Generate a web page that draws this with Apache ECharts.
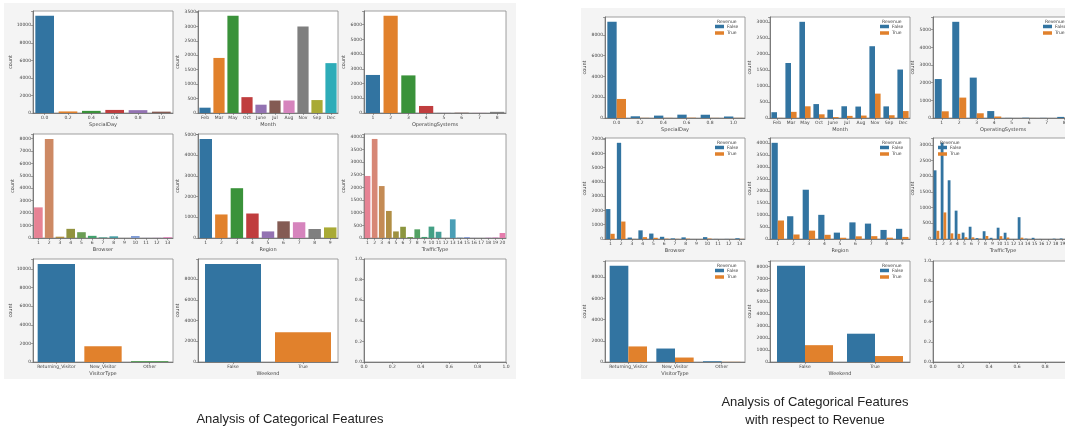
<!DOCTYPE html>
<html><head><meta charset="utf-8">
<script src="https://cdn.jsdelivr.net/npm/echarts@6/dist/echarts.min.js"></script>
<style>html,body{margin:0;padding:0;background:#fff}#c{width:1065px;height:428px}</style>
</head><body><div id="c"></div>
<script>
// ---------- DATA ----------
const specialDayCats = ['0.0','0.2','0.4','0.6','0.8','1.0'];
const specialDayCounts = [11079,178,243,351,325,154];
const specialDayFalse = [9248,164,230,322,314,144];
const specialDayTrue = [1831,14,13,29,11,10];

const monthCats = ['Feb','Mar','May','Oct','June','Jul','Aug','Nov','Sep','Dec'];
const monthCounts = [184,1907,3364,549,288,432,433,2998,448,1727];
const monthFalse = [181,1715,2999,434,259,366,357,2238,362,1511];
const monthTrue = [3,192,365,115,29,66,76,760,86,216];

const osCats = ['1','2','3','4','5','6','7','8'];
const osCounts = [2585,6601,2555,478,6,19,7,79];
const osFalse = [2206,5446,2287,393,5,17,6,62];
const osTrue = [379,1155,268,85,1,2,1,17];

const browserCats = ['1','2','3','4','5','6','7','8','9','10','11','12','13'];
const browserCounts = [2462,7961,105,736,467,174,49,135,1,163,6,10,61];
const browserFalse = [2097,6738,100,606,381,154,43,114,1,131,5,7,53];
const browserTrue = [365,1223,5,130,86,20,6,21,0,32,1,3,8];

const regionCats = ['1','2','3','4','5','6','7','8','9'];
const regionCounts = [4780,1136,2403,1182,318,805,761,434,511];
const regionFalse = [4009,948,2054,1007,266,693,642,378,425];
const regionTrue = [771,188,349,175,52,112,119,56,86];

const trafficCats = ['1','2','3','4','5','6','7','8','9','10','11','12','13','14','15','16','17','18','19','20'];
const trafficCounts = [2451,3913,2052,1069,260,444,40,343,42,450,247,1,738,13,38,3,1,10,17,198];
const trafficFalse = [2189,3066,1872,904,204,391,28,248,38,360,200,1,695,11,38,2,1,10,16,175];
const trafficTrue = [262,847,180,165,56,53,12,95,4,90,47,0,43,2,0,1,0,0,1,23];

const visitorCats = ['Returning_Visitor','New_Visitor','Other'];
const visitorCounts = [10551,1694,85];
const visitorFalse = [9081,1272,69];
const visitorTrue = [1470,422,16];

const weekendCats = ['False','True'];
const weekendCounts = [9462,2868];
const weekendFalse = [8053,2369];
const weekendTrue = [1409,499];

// ---------- COLOURS ----------
function hex2rgb(h){return [parseInt(h.substr(1,2),16),parseInt(h.substr(3,2),16),parseInt(h.substr(5,2),16)];}
function rgb2hex(c){return '#'+c.map(v=>Math.max(0,Math.min(255,Math.round(v))).toString(16).padStart(2,'0')).join('');}
function desat(hex,f){
  let [r,g,b]=hex2rgb(hex).map(v=>v/255);
  const mx=Math.max(r,g,b),mn=Math.min(r,g,b);const l=(mx+mn)/2;let h=0,s=0;
  if(mx!==mn){const d=mx-mn;s=l>0.5?d/(2-mx-mn):d/(mx+mn);
    if(mx===r)h=((g-b)/d+(g<b?6:0));else if(mx===g)h=(b-r)/d+2;else h=(r-g)/d+4;h/=6;}
  s*=f;
  function hue2(p,q,t){if(t<0)t+=1;if(t>1)t-=1;if(t<1/6)return p+(q-p)*6*t;if(t<1/2)return q;if(t<2/3)return p+(q-p)*(2/3-t)*6;return p;}
  let R,G,B;if(s===0){R=G=B=l;}else{const q=l<0.5?l*(1+s):l+s-l*s;const p=2*l-q;R=hue2(p,q,h+1/3);G=hue2(p,q,h);B=hue2(p,q,h-1/3);}
  return rgb2hex([R*255,G*255,B*255]);
}
const deep = ['#3274a1','#e1812c','#3a923a','#c03d3e','#9372b2','#845b53','#d684bd','#7f7f7f','#a9aa35','#2eacb8'];
const huslAnchors = ['#f77189','#ce9032','#97a431','#32b166','#36ada4','#39a7d0','#a48cf4','#f561dd'];
function husl(n){
  const out=[];
  for(let i=0;i<n;i++){const p=i/n*8;const a=Math.floor(p)%8,b=(a+1)%8,t=p-Math.floor(p);
    const ca=hex2rgb(huslAnchors[a]),cb=hex2rgb(huslAnchors[b]);
    out.push(desat(rgb2hex(ca.map((v,k)=>v+(cb[k]-v)*t)),0.75));}
  return out;
}
const BLUE='#3274a1', ORANGE='#e1812c';

// ---------- LAYOUT ----------
const FONT='DejaVu Sans';
const leftCols=[[33,140],[198,140],[364,142]];
const leftRows=[[11,113],[134,238],[259,362]];
const rightCols=[[605,140],[770,140],[933,140]];
const rightRows=[[17,118],[138,239],[261,362]];

const grids=[],xAxes=[],yAxes=[],series=[],legends=[],graphics=[];

function yAxisCfg(gi,step,maxVal){
  const chars=String(Math.floor(maxVal/step)*step).length;
  return {type:'value',gridIndex:gi,min:0,max:maxVal*1.05,interval:step,
    axisLine:{show:true,lineStyle:{color:'#666',width:0.8}},
    axisTick:{show:true,length:2,lineStyle:{color:'#666',width:0.6}},
    splitLine:{show:false},
    axisLabel:{fontSize:4.5,margin:2,color:'#444',fontFamily:FONT,
      formatter:v=>Math.abs(v/step-Math.round(v/step))<1e-6?String(Math.round(v)):''},
    name:'count',nameLocation:'middle',nameRotate:90,nameGap:6+chars*2.8,
    nameTextStyle:{fontSize:5,color:'#444',fontFamily:FONT}};
}
function xAxisCfg(gi,cats,name){
  return {type:'category',gridIndex:gi,data:cats,
    axisLine:{show:true,lineStyle:{color:'#666',width:0.8}},
    axisTick:{show:true,alignWithLabel:true,length:2,lineStyle:{color:'#666',width:0.6}},
    axisLabel:{fontSize:4.5,margin:2,interval:0,color:'#444',fontFamily:FONT},
    name:name,nameLocation:'middle',nameGap:9,nameTextStyle:{fontSize:5,color:'#444',fontFamily:FONT}};
}
function addGrid(col,row){
  grids.push({left:col[0],top:row[0],width:col[1],height:row[1]-row[0],show:true,backgroundColor:'#fff',
    borderColor:'#888',borderWidth:0.8,containLabel:false,outerBoundsMode:'none'});
  return grids.length-1;
}
function plainPlot(col,row,cats,counts,name,step,palette){
  const gi=addGrid(col,row);
  xAxes.push(xAxisCfg(gi,cats,name));
  yAxes.push(yAxisCfg(gi,step,Math.max(...counts)));
  series.push({type:'bar',xAxisIndex:gi,yAxisIndex:gi,data:counts,barCategoryGap:'20%',
    itemStyle:{color:p=>palette[p.dataIndex%palette.length]}});
}
function huePlot(col,row,cats,fals,tru,name,step,legendLeft){
  const gi=addGrid(col,row);
  xAxes.push(xAxisCfg(gi,cats,name));
  yAxes.push(yAxisCfg(gi,step,Math.max(...fals,...tru)));
  series.push({type:'bar',name:'False',xAxisIndex:gi,yAxisIndex:gi,data:fals,barGap:'0%',barCategoryGap:'20%',itemStyle:{color:BLUE}});
  series.push({type:'bar',name:'True',xAxisIndex:gi,yAxisIndex:gi,data:tru,barGap:'0%',barCategoryGap:'20%',itemStyle:{color:ORANGE}});
  const lx=legendLeft?col[0]+5:col[0]+col[1]-30;
  legends.push({data:['False','True'],orient:'vertical',left:lx,top:row[0]+7,itemWidth:9,itemHeight:3.5,itemGap:1.5,padding:0,
    icon:'rect',selectedMode:false,textStyle:{fontSize:4.5,color:'#444',fontFamily:FONT,padding:[0,0,0,-2]}});
  graphics.push({type:'text',left:lx+2,top:row[0]+2,style:{text:'Revenue',fontSize:4.5,fill:'#444',fontFamily:FONT}});
}
function emptyPlot(col,row){
  const gi=addGrid(col,row);
  const ax=()=>({type:'value',gridIndex:gi,min:0,max:1,interval:0.2,
    axisLine:{show:true,lineStyle:{color:'#666',width:0.8}},
    axisTick:{show:true,length:2,lineStyle:{color:'#666',width:0.6}},splitLine:{show:false},
    axisLabel:{fontSize:4.5,margin:2,color:'#444',fontFamily:FONT,formatter:v=>v.toFixed(1)}});
  xAxes.push(ax());yAxes.push(ax());
  series.push({type:'scatter',xAxisIndex:gi,yAxisIndex:gi,data:[]});
}

// left panel
plainPlot(leftCols[0],leftRows[0],specialDayCats,specialDayCounts,'SpecialDay',2000,deep);
plainPlot(leftCols[1],leftRows[0],monthCats,monthCounts,'Month',500,deep);
plainPlot(leftCols[2],leftRows[0],osCats,osCounts,'OperatingSystems',1000,deep);
plainPlot(leftCols[0],leftRows[1],browserCats,browserCounts,'Browser',1000,husl(13));
plainPlot(leftCols[1],leftRows[1],regionCats,regionCounts,'Region',1000,deep);
plainPlot(leftCols[2],leftRows[1],trafficCats,trafficCounts,'TrafficType',500,husl(20));
plainPlot(leftCols[0],leftRows[2],visitorCats,visitorCounts,'VisitorType',2000,deep);
plainPlot(leftCols[1],leftRows[2],weekendCats,weekendCounts,'Weekend',2000,deep);
emptyPlot(leftCols[2],leftRows[2]);
// right panel
huePlot(rightCols[0],rightRows[0],specialDayCats,specialDayFalse,specialDayTrue,'SpecialDay',2000);
huePlot(rightCols[1],rightRows[0],monthCats,monthFalse,monthTrue,'Month',500);
huePlot(rightCols[2],rightRows[0],osCats,osFalse,osTrue,'OperatingSystems',1000);
huePlot(rightCols[0],rightRows[1],browserCats,browserFalse,browserTrue,'Browser',1000);
huePlot(rightCols[1],rightRows[1],regionCats,regionFalse,regionTrue,'Region',500);
huePlot(rightCols[2],rightRows[1],trafficCats,trafficFalse,trafficTrue,'TrafficType',500,true);
huePlot(rightCols[0],rightRows[2],visitorCats,visitorFalse,visitorTrue,'VisitorType',2000);
huePlot(rightCols[1],rightRows[2],weekendCats,weekendFalse,weekendTrue,'Weekend',1000);
emptyPlot(rightCols[2],rightRows[2]);

const bgs=[
  {type:'rect',shape:{x:4,y:3,width:512,height:376},style:{fill:'#f4f4f4'},z:-100},
  {type:'rect',shape:{x:581,y:8,width:484,height:371},style:{fill:'#f4f4f4'},z:-100},
  {type:'text',style:{text:'Analysis of Categorical Features',fontSize:13,fill:'#222',fontFamily:'Liberation Sans',x:290,y:413,align:'center'},z:10},
  {type:'text',style:{text:'Analysis of Categorical Features',fontSize:13,fill:'#222',fontFamily:'Liberation Sans',x:815,y:396,align:'center'},z:10},
  {type:'text',style:{text:'with respect to Revenue',fontSize:13,fill:'#222',fontFamily:'Liberation Sans',x:815,y:414,align:'center'},z:10}
];

const chart=echarts.init(document.getElementById('c'),null,{renderer:'canvas'});
chart.setOption({
  animation:false,
  backgroundColor:'#fff',
  grid:grids,xAxis:xAxes,yAxis:yAxes,series:series,legend:legends,
  graphic:{elements:bgs.concat(graphics.map(g=>Object.assign({z:50},g)))}
});
</script></body></html>
